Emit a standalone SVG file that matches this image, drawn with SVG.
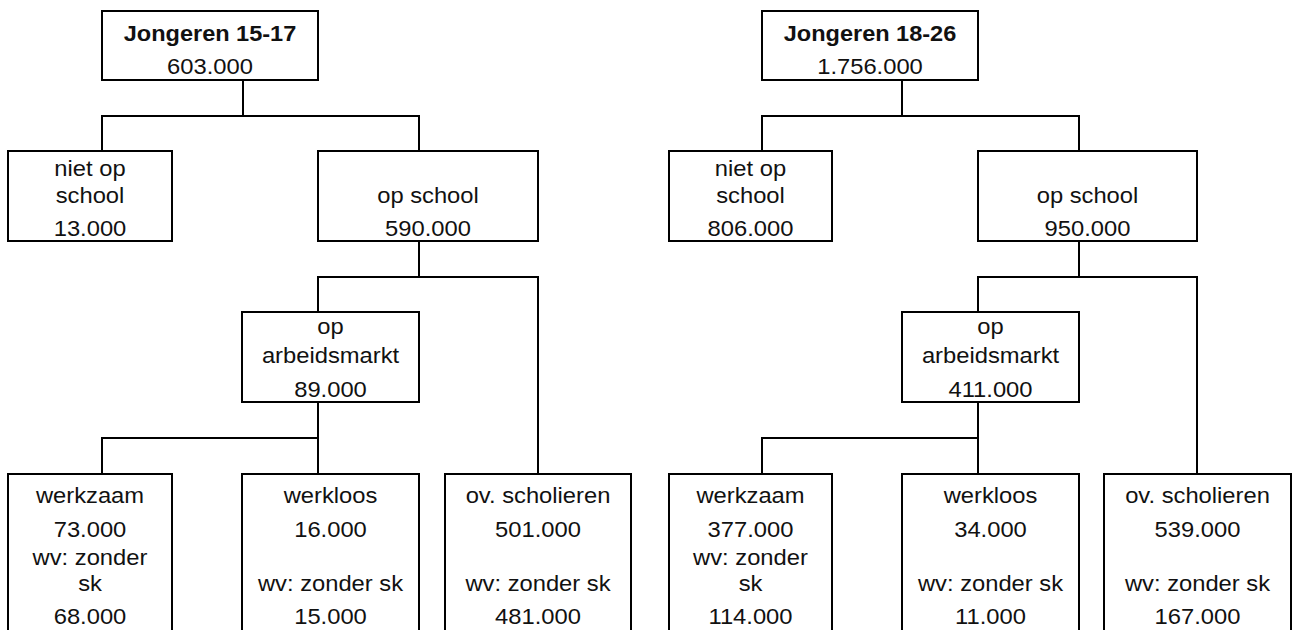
<svg xmlns="http://www.w3.org/2000/svg" width="1296" height="630" viewBox="0 0 1296 630">
<style>
.box{fill:#fff;stroke:#000;stroke-width:2}
.con{fill:none;stroke:#000;stroke-width:2}
text{font-family:"Liberation Sans",Arial,sans-serif;font-size:22px;fill:#111;text-anchor:middle}
.b{font-weight:bold}
</style>
<rect width="1296" height="630" fill="#fff"/>
<g id="connectors">
<path class="con" d="M243,80V116M102,151V116H419V151"/>
<path class="con" d="M419,241V277M318,312V277H538V474"/>
<path class="con" d="M318,402V438M102,474V438H318V474"/>
<path class="con" d="M902,80V116M762,151V116H1079V151"/>
<path class="con" d="M1079,241V277M978,312V277H1197V474"/>
<path class="con" d="M978,402V438M762,474V438H978V474"/>
</g>
<g id="top1">
<rect class="box" x="102" y="11" width="216" height="69"/>
<text class="b" transform="translate(210 40.5) scale(1.07 1)">Jongeren 15-17</text>
<text transform="translate(210 73.5) scale(1.08 1)">603.000</text>
</g>
<g id="niet1">
<rect class="box" x="8" y="151" width="164" height="90"/>
<text transform="translate(90 175.7) scale(1.08 1)">niet op</text>
<text transform="translate(90 203.3) scale(1.08 1)">school</text>
<text transform="translate(90 236) scale(1.08 1)">13.000</text>
</g>
<g id="op1">
<rect class="box" x="318" y="151" width="220" height="90"/>
<text transform="translate(428 203.3) scale(1.08 1)">op school</text>
<text transform="translate(428 236) scale(1.08 1)">590.000</text>
</g>
<g id="arb1">
<rect class="box" x="242" y="312" width="177" height="90"/>
<text transform="translate(330.5 334.3) scale(1.08 1)">op</text>
<text transform="translate(330.5 363) scale(1.08 1)">arbeidsmarkt</text>
<text transform="translate(330.5 396.5) scale(1.08 1)">89.000</text>
</g>
<g id="werkz1">
<rect class="box" x="8" y="474" width="164" height="170"/>
<text transform="translate(90 503.3) scale(1.08 1)">werkzaam</text>
<text transform="translate(90 537) scale(1.08 1)">73.000</text>
<text transform="translate(90 565) scale(1.08 1)">wv: zonder</text>
<text transform="translate(90 591) scale(1.08 1)">sk</text>
<text transform="translate(90 624) scale(1.08 1)">68.000</text>
</g>
<g id="werkl1">
<rect class="box" x="242" y="474" width="177" height="170"/>
<text transform="translate(330.5 503.3) scale(1.08 1)">werkloos</text>
<text transform="translate(330.5 537) scale(1.08 1)">16.000</text>
<text transform="translate(330.5 591) scale(1.08 1)">wv: zonder sk</text>
<text transform="translate(330.5 624) scale(1.08 1)">15.000</text>
</g>
<g id="ov1">
<rect class="box" x="445" y="474" width="186" height="170"/>
<text transform="translate(538 503.3) scale(1.08 1)">ov. scholieren</text>
<text transform="translate(538 537) scale(1.08 1)">501.000</text>
<text transform="translate(538 591) scale(1.08 1)">wv: zonder sk</text>
<text transform="translate(538 624) scale(1.08 1)">481.000</text>
</g>
<g id="top2">
<rect class="box" x="762" y="11" width="216" height="69"/>
<text class="b" transform="translate(870 40.5) scale(1.07 1)">Jongeren 18-26</text>
<text transform="translate(870 73.5) scale(1.08 1)">1.756.000</text>
</g>
<g id="niet2">
<rect class="box" x="669" y="151" width="163" height="90"/>
<text transform="translate(750.5 175.7) scale(1.08 1)">niet op</text>
<text transform="translate(750.5 203.3) scale(1.08 1)">school</text>
<text transform="translate(750.5 236) scale(1.08 1)">806.000</text>
</g>
<g id="op2">
<rect class="box" x="978" y="151" width="219" height="90"/>
<text transform="translate(1087.5 203.3) scale(1.08 1)">op school</text>
<text transform="translate(1087.5 236) scale(1.08 1)">950.000</text>
</g>
<g id="arb2">
<rect class="box" x="902" y="312" width="177" height="90"/>
<text transform="translate(990.5 334.3) scale(1.08 1)">op</text>
<text transform="translate(990.5 363) scale(1.08 1)">arbeidsmarkt</text>
<text transform="translate(990.5 396.5) scale(1.08 1)">411.000</text>
</g>
<g id="werkz2">
<rect class="box" x="669" y="474" width="163" height="170"/>
<text transform="translate(750.5 503.3) scale(1.08 1)">werkzaam</text>
<text transform="translate(750.5 537) scale(1.08 1)">377.000</text>
<text transform="translate(750.5 565) scale(1.08 1)">wv: zonder</text>
<text transform="translate(750.5 591) scale(1.08 1)">sk</text>
<text transform="translate(750.5 624) scale(1.08 1)">114.000</text>
</g>
<g id="werkl2">
<rect class="box" x="902" y="474" width="177" height="170"/>
<text transform="translate(990.5 503.3) scale(1.08 1)">werkloos</text>
<text transform="translate(990.5 537) scale(1.08 1)">34.000</text>
<text transform="translate(990.5 591) scale(1.08 1)">wv: zonder sk</text>
<text transform="translate(990.5 624) scale(1.08 1)">11.000</text>
</g>
<g id="ov2">
<rect class="box" x="1104" y="474" width="187" height="170"/>
<text transform="translate(1197.5 503.3) scale(1.08 1)">ov. scholieren</text>
<text transform="translate(1197.5 537) scale(1.08 1)">539.000</text>
<text transform="translate(1197.5 591) scale(1.08 1)">wv: zonder sk</text>
<text transform="translate(1197.5 624) scale(1.08 1)">167.000</text>
</g>
</svg>
